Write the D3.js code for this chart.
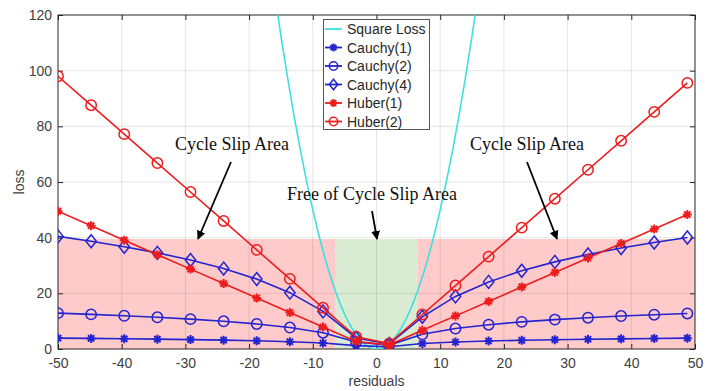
<!DOCTYPE html>
<html><head><meta charset="utf-8">
<script src="https://cdn.jsdelivr.net/npm/d3@7"></script>
<style>body{margin:0;background:#fff}svg{display:block}</style>
</head><body>
<script>
// ---- data ----
const residuals = [-50,-44.8,-39.6,-34.4,-29.2,-24,-18.8,-13.6,-8.4,-3.2,2.0,7.2,12.4,17.6,22.8,28,33.2,38.4,43.6,48.8];
const cauchy1 = [3.91,3.80,3.68,3.54,3.38,3.18,2.94,2.61,2.14,1.21,0.81,1.98,2.52,2.87,3.13,3.33,3.50,3.65,3.78,3.89];
const cauchy2 = [12.88,12.44,11.95,11.39,10.73,9.95,8.99,7.71,5.85,2.54,1.39,5.27,7.35,8.73,9.75,10.57,11.25,11.83,12.33,12.78];
const cauchy4 = [40.46,38.72,36.76,34.54,31.96,28.89,25.12,20.24,13.51,3.96,1.79,11.56,18.89,24.11,28.09,31.30,33.98,36.28,38.29,40.08];
const huber1 = [49.5,44.3,39.1,33.9,28.7,23.5,18.3,13.1,7.9,2.7,1.5,6.7,11.9,17.1,22.3,27.5,32.7,37.9,43.1,48.3];
const huber2 = [98,87.6,77.2,66.8,56.4,46,35.6,25.2,14.8,4.4,2,12.4,22.8,33.2,43.6,54,64.4,74.8,85.2,95.6];
const squareX = [-16,-15,-14,-13,-12,-11,-10,-9,-8,-7,-6,-5,-4,-3,-2,-1,0,1,2,3,4,5,6,7,8,9,10,11,12,13,14,15,16];
const squareY = [128,112.5,98,84.5,72,60.5,50,40.5,32,24.5,18,12.5,8,4.5,2,0.5,0,0.5,2,4.5,8,12.5,18,24.5,32,40.5,50,60.5,72,84.5,98,112.5,128];
const xTicks = [-50,-40,-30,-20,-10,0,10,20,30,40,50];
const yTicks = [0,20,40,60,80,100,120];
const seriesNames = ["Square Loss","Cauchy(1)","Cauchy(2)","Cauchy(4)","Huber(1)","Huber(2)"];
// regions: [x0, x1, top]
const slipRegions = [[-50,-6.4,39.5],[6.4,50,39.5]];
const freeRegion = [-6.4,6.4,39.5];

const W=722,H=391;
const L=58,R=695,T=15,B=349;
const x=d3.scaleLinear().domain([-50,50]).range([L,R]);
const y=d3.scaleLinear().domain([0,120]).range([B,T]);

const svg=d3.select("body").append("svg").attr("width",W).attr("height",H);
const defs=svg.append("defs");
defs.append("clipPath").attr("id","clip").append("rect").attr("x",L).attr("y",T).attr("width",R-L).attr("height",B-T);
defs.append("marker").attr("id","arr").attr("viewBox","0 0 10 10").attr("refX",9).attr("refY",5)
  .attr("markerWidth",5).attr("markerHeight",5).attr("orient","auto").attr("markerUnits","strokeWidth")
  .append("path").attr("d","M0,0L10,5L0,10Z").attr("fill","#000");

// shaded regions
slipRegions.forEach(r=>{
  svg.append("rect").attr("x",x(r[0])).attr("y",y(r[2])).attr("width",x(r[1])-x(r[0])).attr("height",y(0)-y(r[2]))
    .attr("fill","#ffcaca");
});
svg.append("rect").attr("x",x(freeRegion[0])).attr("y",y(freeRegion[2])).attr("width",x(freeRegion[1])-x(freeRegion[0]))
  .attr("height",y(0)-y(freeRegion[2])).attr("fill","#daebd3");

// grid
const g=svg.append("g");
g.selectAll(".gx").data(xTicks.slice(1,-1)).join("line").attr("x1",d=>x(d)).attr("x2",d=>x(d)).attr("y1",T).attr("y2",B)
  .attr("stroke","#000").attr("stroke-opacity",0.1).attr("stroke-width",1);
g.selectAll(".gy").data(yTicks.slice(1,-1)).join("line").attr("y1",d=>y(d)).attr("y2",d=>y(d)).attr("x1",L).attr("x2",R)
  .attr("stroke","#000").attr("stroke-opacity",0.1).attr("stroke-width",1);

// axes
const axc="#262626";
const fmt=d=>String(d);
const xAxis=d3.axisBottom(x).tickValues(xTicks).tickFormat(fmt).tickSize(-5).tickPadding(9);
const yAxis=d3.axisLeft(y).tickValues(yTicks).tickFormat(fmt).tickSize(-5).tickPadding(6);
function styleAxis(sel){
  sel.select(".domain").remove();
  sel.selectAll("line").attr("stroke",axc);
  sel.selectAll("text").attr("fill","#404040").style("font-family","'Liberation Sans',Arial,sans-serif").style("font-size","14px");
}
svg.append("g").attr("transform",`translate(0,${B})`).call(xAxis).call(styleAxis);
svg.append("g").attr("transform",`translate(${L},0)`).call(yAxis).call(styleAxis);
svg.append("g").attr("transform",`translate(0,${T})`).call(d3.axisTop(x).tickValues(xTicks).tickSize(-5).tickFormat("")).call(styleAxis);
svg.append("g").attr("transform",`translate(${R},0)`).call(d3.axisRight(y).tickValues(yTicks).tickSize(-5).tickFormat("")).call(styleAxis);
svg.append("rect").attr("x",L).attr("y",T).attr("width",R-L).attr("height",B-T).attr("fill","none").attr("stroke",axc).attr("stroke-width",1);

svg.append("text").attr("x",(L+R)/2).attr("y",386).attr("text-anchor","middle").attr("fill","#404040")
  .style("font-family","'Liberation Sans',Arial,sans-serif").style("font-size","14px").text("residuals");
svg.append("text").attr("transform",`translate(24,${(T+B)/2}) rotate(-90)`).attr("text-anchor","middle").attr("fill","#404040")
  .style("font-family","'Liberation Sans',Arial,sans-serif").style("font-size","14px").text("loss");

// series
const plot=svg.append("g").attr("clip-path","url(#clip)");
const cyan="#3ee0e0", blue="#2323d0", red="#ee1c1c";
plot.append("path").datum(squareX.map((v,i)=>[v,squareY[i]]))
  .attr("d",d3.line().x(d=>x(d[0])).y(d=>y(d[1])).curve(d3.curveNatural))
  .attr("fill","none").attr("stroke",cyan).attr("stroke-width",1.6);

function markerPath(type, s){
  if(type==="star"){
    const a=s, b=s*0.7;
    return `M${-a},0L${a},0M0,${-a}L0,${a}M${-b},${-b}L${b},${b}M${-b},${b}L${b},${-b}`;
  }
  if(type==="circle"){
    return `M${s},0A${s},${s} 0 1,1 ${-s},0A${s},${s} 0 1,1 ${s},0Z`;
  }
  if(type==="diamond"){
    return `M0,${-s*1.25}L${s},0L0,${s*1.25}L${-s},0Z`;
  }
}
const series=[
  {name:"Cauchy(1)",vals:cauchy1,color:blue,m:"star"},
  {name:"Cauchy(2)",vals:cauchy2,color:blue,m:"circle"},
  {name:"Cauchy(4)",vals:cauchy4,color:blue,m:"diamond"},
  {name:"Huber(1)",vals:huber1,color:red,m:"star"},
  {name:"Huber(2)",vals:huber2,color:red,m:"circle"}
];
series.forEach(s=>{
  const pts=residuals.map((v,i)=>[v,s.vals[i]]);
  plot.append("path").datum(pts).attr("d",d3.line().x(d=>x(d[0])).y(d=>y(d[1])))
    .attr("fill","none").attr("stroke",s.color).attr("stroke-width",1.6);
  plot.selectAll(null).data(pts).join("path")
    .attr("transform",d=>`translate(${x(d[0])},${y(d[1])})`)
    .attr("d",markerPath(s.m, s.m==="star"?4.5:5.2))
    .attr("fill","none").attr("stroke",s.color).attr("stroke-width",s.m==="star"?2:1.5);
});

// annotations
const serif="'Liberation Serif','Times New Roman',serif";
function label(tx,ty,txt){
  svg.append("text").attr("x",tx).attr("y",ty).attr("text-anchor","middle").attr("fill","#111")
    .style("font-family",serif).style("font-size","18px").text(txt);
}
function arrow(x1,y1,x2,y2){
  svg.append("line").attr("x1",x1).attr("y1",y1).attr("x2",x2).attr("y2",y2)
    .attr("stroke","#000").attr("stroke-width",1.8).attr("marker-end","url(#arr)");
}
label(232,150,"Cycle Slip Area");
arrow(231,162,198,239);
label(527,150,"Cycle Slip Area");
arrow(527,162,557,239);
label(372,200,"Free of Cycle Slip Area");
arrow(372,211,377,239);

// legend
const lg=svg.append("g");
lg.append("rect").attr("x",323.5).attr("y",19.5).attr("width",106).attr("height",110).attr("fill","#fff").attr("stroke","#555").attr("stroke-width",1);
const legendItems=[
  {color:cyan,m:null},
  {color:blue,m:"star"},{color:blue,m:"circle"},{color:blue,m:"diamond"},
  {color:red,m:"star"},{color:red,m:"circle"}
];
legendItems.forEach((it,i)=>{
  const ly=29+i*18.5;
  lg.append("line").attr("x1",325).attr("x2",342).attr("y1",ly).attr("y2",ly).attr("stroke",it.color).attr("stroke-width",1.8);
  if(it.m) lg.append("path").attr("transform",`translate(333.5,${ly})`).attr("d",markerPath(it.m, it.m==="star"?4:4.2))
    .attr("fill","none").attr("stroke",it.color).attr("stroke-width",it.m==="star"?2:1.5);
  lg.append("text").attr("x",347).attr("y",ly+5).attr("fill","#262626")
    .style("font-family","'Liberation Sans',Arial,sans-serif").style("font-size","14px").text(seriesNames[i]);
});
</script>
</body></html>
